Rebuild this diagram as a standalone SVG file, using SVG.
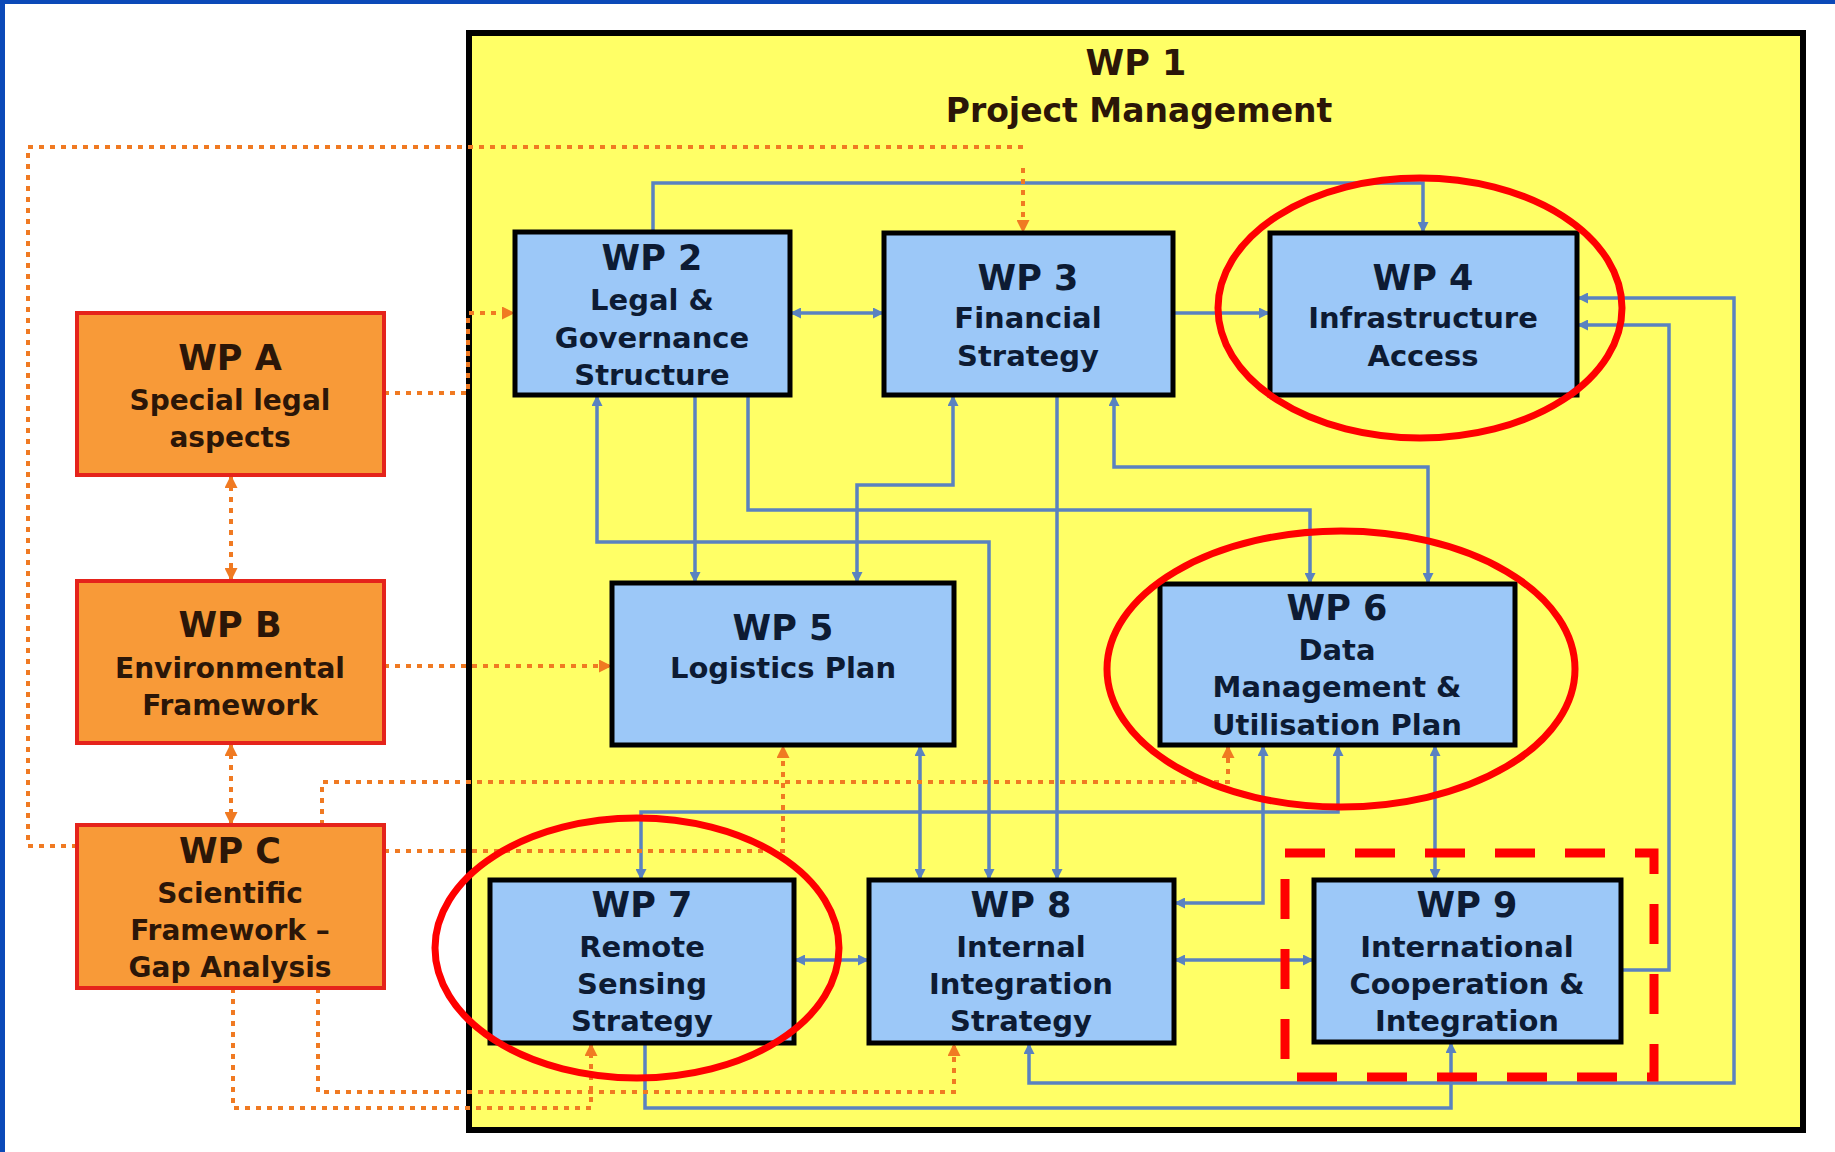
<svg xmlns="http://www.w3.org/2000/svg" width="1835" height="1152" viewBox="0 0 1835 1152">
<defs>
<style>
.frame{fill:#FFFF66;stroke:#000;stroke-width:6}
.wp{fill:#9CC8F8;stroke:#000;stroke-width:5}
.ext{fill:#F89A38;stroke:#E5231B;stroke-width:4}
.t{font-family:"DejaVu Sans",Verdana,sans-serif;font-weight:bold;text-anchor:middle}
.blue{fill:#0D1B33}
.brown{fill:#2B1608}
.h{font-size:35px}
.s{font-size:29px}
.so{font-size:28px}
.bl{fill:none;stroke:#5A82C0;stroke-width:3.5}
.or{fill:none;stroke:#F07A22;stroke-width:4;stroke-dasharray:5 6}
.hl{fill:none;stroke:#FF0000;stroke-width:7}
.hld{fill:none;stroke:#FF0000;stroke-width:9;stroke-dasharray:40 30}
</style>
<marker id="ab" viewBox="0 0 10 10" refX="10" refY="5" markerWidth="11" markerHeight="11" markerUnits="userSpaceOnUse" orient="auto-start-reverse"><path d="M0,0 L10,5 L0,10 z" fill="#5A82C0"/></marker>
<marker id="ao" viewBox="0 0 10 10" refX="10" refY="5" markerWidth="13" markerHeight="13" markerUnits="userSpaceOnUse" orient="auto-start-reverse"><path d="M0,0 L10,5 L0,10 z" fill="#F07A22"/></marker>
</defs>
<rect x="0" y="0" width="1835" height="1152" fill="#FFFFFF"/>
<rect x="0" y="0" width="1835" height="4" fill="#0B49B8"/>
<rect x="0" y="0" width="5" height="1152" fill="#0B49B8"/>

<g id="wp1">
<rect class="frame" x="469" y="33" width="1334" height="1097"/>
<text class="t brown h" x="1136" y="75">WP 1</text>
<text class="t brown" style="font-size:33px" x="1139" y="122">Project Management</text>
</g>

<g id="connectors">
<path class="bl" d="M653,232 V183 H1423 V233" marker-end="url(#ab)"/>
<path class="bl" d="M790,313 H884" marker-start="url(#ab)" marker-end="url(#ab)"/>
<path class="bl" d="M1173,313 H1270" marker-end="url(#ab)"/>
<path class="bl" d="M989,880 V542 H597 V395" marker-start="url(#ab)" marker-end="url(#ab)"/>
<path class="bl" d="M695,395 V583" marker-end="url(#ab)"/>
<path class="bl" d="M748,395 V510 H1310 V584" marker-end="url(#ab)"/>
<path class="bl" d="M953,395 V485 H857 V583" marker-start="url(#ab)" marker-end="url(#ab)"/>
<path class="bl" d="M1057,395 V880" marker-end="url(#ab)"/>
<path class="bl" d="M1114,395 V467 H1428 V584" marker-start="url(#ab)" marker-end="url(#ab)"/>
<path class="bl" d="M920,745 V880" marker-start="url(#ab)" marker-end="url(#ab)"/>
<path class="bl" d="M641,880 V812 H1338 V745" marker-start="url(#ab)" marker-end="url(#ab)"/>
<path class="bl" d="M1263,745 V903 H1174" marker-start="url(#ab)" marker-end="url(#ab)"/>
<path class="bl" d="M1435,745 V880" marker-start="url(#ab)" marker-end="url(#ab)"/>
<path class="bl" d="M794,960 H869" marker-start="url(#ab)" marker-end="url(#ab)"/>
<path class="bl" d="M1174,960 H1314" marker-start="url(#ab)" marker-end="url(#ab)"/>
<path class="bl" d="M645,1043 V1108 H1451 V1042" marker-end="url(#ab)"/>
<path class="bl" d="M1577,298 H1734 V1083 H1029 V1043" marker-start="url(#ab)" marker-end="url(#ab)"/>
<path class="bl" d="M1621,970 H1669 V325 H1577" marker-end="url(#ab)"/>

<path class="or" d="M77,846 H28 V147 H1023 M1023,168 V233" marker-end="url(#ao)"/>
<path class="or" d="M384,393 H468 V313 H515" marker-end="url(#ao)"/>
<path class="or" d="M231,475 V581" marker-start="url(#ao)" marker-end="url(#ao)"/>
<path class="or" d="M231,743 V825" marker-start="url(#ao)" marker-end="url(#ao)"/>
<path class="or" d="M384,666 H612" marker-end="url(#ao)"/>
<path class="or" d="M384,851 H783 V745" marker-end="url(#ao)"/>
<path class="or" d="M322,825 V782 H1228 V745" marker-end="url(#ao)"/>
<path class="or" d="M233,988 V1108 H591 V1043" marker-end="url(#ao)"/>
<path class="or" d="M318,988 V1092 H954 V1043" marker-end="url(#ao)"/>
</g>

<g id="wp2">
<rect class="wp" x="515" y="232" width="275" height="163"/>
<text class="t blue h" x="652" y="270">WP 2</text>
<text class="t blue s" x="652" y="310">Legal &amp;</text>
<text class="t blue s" x="652" y="348">Governance</text>
<text class="t blue s" x="652" y="385">Structure</text>
</g>
<g id="wp3">
<rect class="wp" x="884" y="233" width="289" height="162"/>
<text class="t blue h" x="1028" y="290">WP 3</text>
<text class="t blue s" x="1028" y="328">Financial</text>
<text class="t blue s" x="1028" y="366">Strategy</text>
</g>
<g id="wp4">
<rect class="wp" x="1270" y="233" width="307" height="162"/>
<text class="t blue h" x="1423" y="290">WP 4</text>
<text class="t blue s" x="1423" y="328">Infrastructure</text>
<text class="t blue s" x="1423" y="366">Access</text>
</g>
<g id="wp5">
<rect class="wp" x="612" y="583" width="342" height="162"/>
<text class="t blue h" x="783" y="640">WP 5</text>
<text class="t blue s" x="783" y="678">Logistics Plan</text>
</g>
<g id="wp6">
<rect class="wp" x="1160" y="584" width="355" height="161"/>
<text class="t blue h" x="1337" y="620">WP 6</text>
<text class="t blue s" x="1337" y="660">Data</text>
<text class="t blue s" x="1337" y="697">Management &amp;</text>
<text class="t blue s" x="1337" y="735">Utilisation Plan</text>
</g>
<g id="wp7">
<rect class="wp" x="490" y="880" width="304" height="163"/>
<text class="t blue h" x="642" y="917">WP 7</text>
<text class="t blue s" x="642" y="957">Remote</text>
<text class="t blue s" x="642" y="994">Sensing</text>
<text class="t blue s" x="642" y="1031">Strategy</text>
</g>
<g id="wp8">
<rect class="wp" x="869" y="880" width="305" height="163"/>
<text class="t blue h" x="1021" y="917">WP 8</text>
<text class="t blue s" x="1021" y="957">Internal</text>
<text class="t blue s" x="1021" y="994">Integration</text>
<text class="t blue s" x="1021" y="1031">Strategy</text>
</g>
<g id="wp9">
<rect class="wp" x="1314" y="880" width="307" height="162"/>
<text class="t blue h" x="1467" y="917">WP 9</text>
<text class="t blue s" x="1467" y="957">International</text>
<text class="t blue s" x="1467" y="994">Cooperation &amp;</text>
<text class="t blue s" x="1467" y="1031">Integration</text>
</g>
<g id="wpA">
<rect class="ext" x="77" y="313" width="307" height="162"/>
<text class="t brown h" x="230" y="370">WP A</text>
<text class="t brown so" x="230" y="410">Special legal</text>
<text class="t brown so" x="230" y="447">aspects</text>
</g>
<g id="wpB">
<rect class="ext" x="77" y="581" width="307" height="162"/>
<text class="t brown h" x="230" y="637">WP B</text>
<text class="t brown so" x="230" y="678">Environmental</text>
<text class="t brown so" x="230" y="715">Framework</text>
</g>
<g id="wpC">
<rect class="ext" x="77" y="825" width="307" height="163"/>
<text class="t brown h" x="230" y="863">WP C</text>
<text class="t brown so" x="230" y="903">Scientific</text>
<text class="t brown so" x="230" y="940">Framework –</text>
<text class="t brown so" x="230" y="977">Gap Analysis</text>
</g>

<g id="highlights">
<ellipse class="hl" cx="1420" cy="308" rx="202" ry="130"/>
<ellipse class="hl" cx="1341" cy="669" rx="234" ry="138"/>
<ellipse class="hl" cx="637" cy="948" rx="202" ry="130"/>
<rect class="hld" x="1285" y="853" width="369" height="224"/>
</g>
</svg>
